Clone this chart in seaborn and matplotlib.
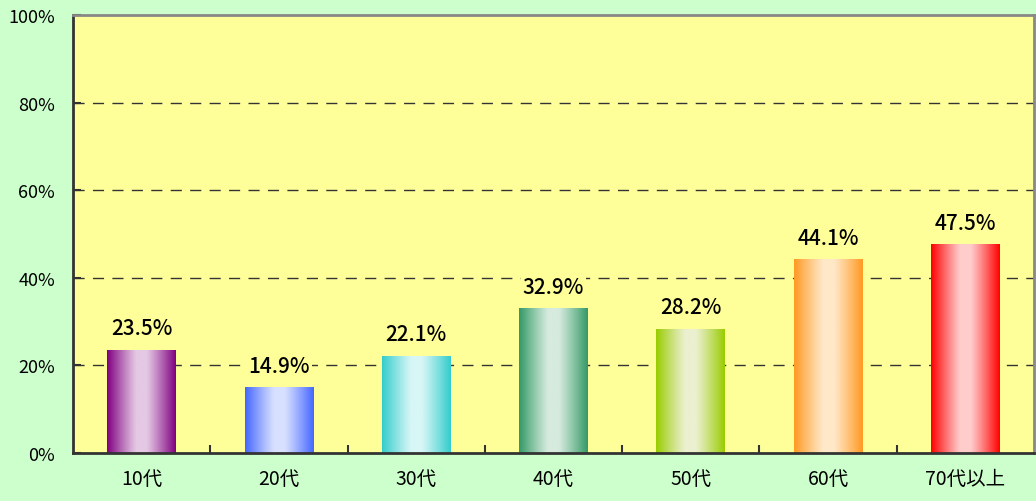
import numpy as np
import pandas as pd
import seaborn as sns
import matplotlib.pyplot as plt
from matplotlib.colors import to_rgb
from matplotlib.ticker import FuncFormatter

# ======================================
# DATA
# ======================================

age_groups = ["10代", "20代", "30代", "40代", "50代", "60代", "70代以上"]
rates = [23.5, 14.9, 22.1, 32.9, 28.2, 44.1, 47.5]

edge_colors = ["#800080", "#4466FF", "#33CCCC", "#339966", "#99CC00", "#FF9922", "#FF0000"]
center_colors = ["#E4C8E4", "#D8E0FF", "#D8F6F6", "#D6EBDE", "#ECF0D0", "#FFE8C8", "#FFCCCC"]

df = pd.DataFrame({"age": age_groups, "rate": rates})

# ======================================
# FIGURE
# ======================================

sns.set_theme(style="white")
plt.rcParams["font.family"] = ["Noto Sans CJK JP", "DejaVu Sans"]
plt.rcParams["text.color"] = "black"
plt.rcParams["xtick.color"] = "black"
plt.rcParams["ytick.color"] = "black"

fig = plt.figure(figsize=(10.36, 5.02), dpi=100, facecolor="#CCFFCC")
ax = fig.add_axes([0.0705, 0.0956, 0.9275, 0.8725])
ax.set_facecolor("#FFFF99")

sns.barplot(
    data=df,
    x="age",
    y="rate",
    hue="age",
    palette=edge_colors,
    width=0.5,
    legend=False,
    linewidth=0,
    ax=ax,
    zorder=3
)

# gradient fill: dark edges, light centre
u = np.linspace(0, 1, 200)
t = np.abs(2 * u - 1)
mix = np.clip((t - 0.15) / 0.85, 0, 1) ** 1.1

for patch, dark, light in zip(ax.patches, edge_colors, center_colors):
    d = np.array(to_rgb(dark))
    l = np.array(to_rgb(light))
    img = l[None, :] + (d - l)[None, :] * mix[:, None]
    img = img[None, :, :]
    x0 = patch.get_x()
    w = patch.get_width()
    h = patch.get_height()
    ax.imshow(
        img,
        extent=[x0, x0 + w, 0, h],
        aspect="auto",
        zorder=4,
        interpolation="bilinear"
    )

# value labels (yellow box hides the gridline behind the text)
for i, v in enumerate(rates):
    ax.annotate(
        f"{v:.1f}%",
        xy=(i, v),
        xytext=(0, 8),
        textcoords="offset points",
        ha="center",
        va="bottom",
        fontsize=15,
        fontweight="medium",
        color="black",
        zorder=5,
        bbox=dict(boxstyle="square,pad=0.1", facecolor="#FFFF99", edgecolor="none")
    )

# ======================================
# AXES
# ======================================

ax.set_xlim(-0.5, len(age_groups) - 0.5)
ax.set_ylim(0, 100)
ax.set_yticks([0, 20, 40, 60, 80, 100])
ax.yaxis.set_major_formatter(FuncFormatter(lambda v, p: f"{v:.0f}%"))

ax.set_xticks(range(len(age_groups)))
ax.set_xticklabels(age_groups)
ax.set_xticks(np.arange(0.5, len(age_groups) - 1, 1), minor=True)

ax.set_xlabel("")
ax.set_ylabel("")

ax.tick_params(axis="y", direction="in", length=6, width=1.5, color="#333333",
               labelsize=13, labelcolor="black", pad=13, left=True)
ax.tick_params(axis="x", which="major", length=0, labelsize=14,
               labelcolor="black", pad=11)
ax.tick_params(axis="x", which="minor", direction="in", length=6, width=1.5,
               color="#333333", bottom=True)

ax.grid(False)
for yv in [20, 40, 60, 80]:
    ax.axhline(yv, color="#333333", linestyle=(0, (8, 6)), linewidth=1, zorder=1)

ax.spines["left"].set_color("#333333")
ax.spines["bottom"].set_color("#333333")
ax.spines["top"].set_color("#888888")
ax.spines["right"].set_color("#888888")
for s in ax.spines.values():
    s.set_linewidth(2)
    s.set_visible(True)
    s.set_zorder(6)

plt.savefig("out.png", dpi=100, facecolor=fig.get_facecolor())
